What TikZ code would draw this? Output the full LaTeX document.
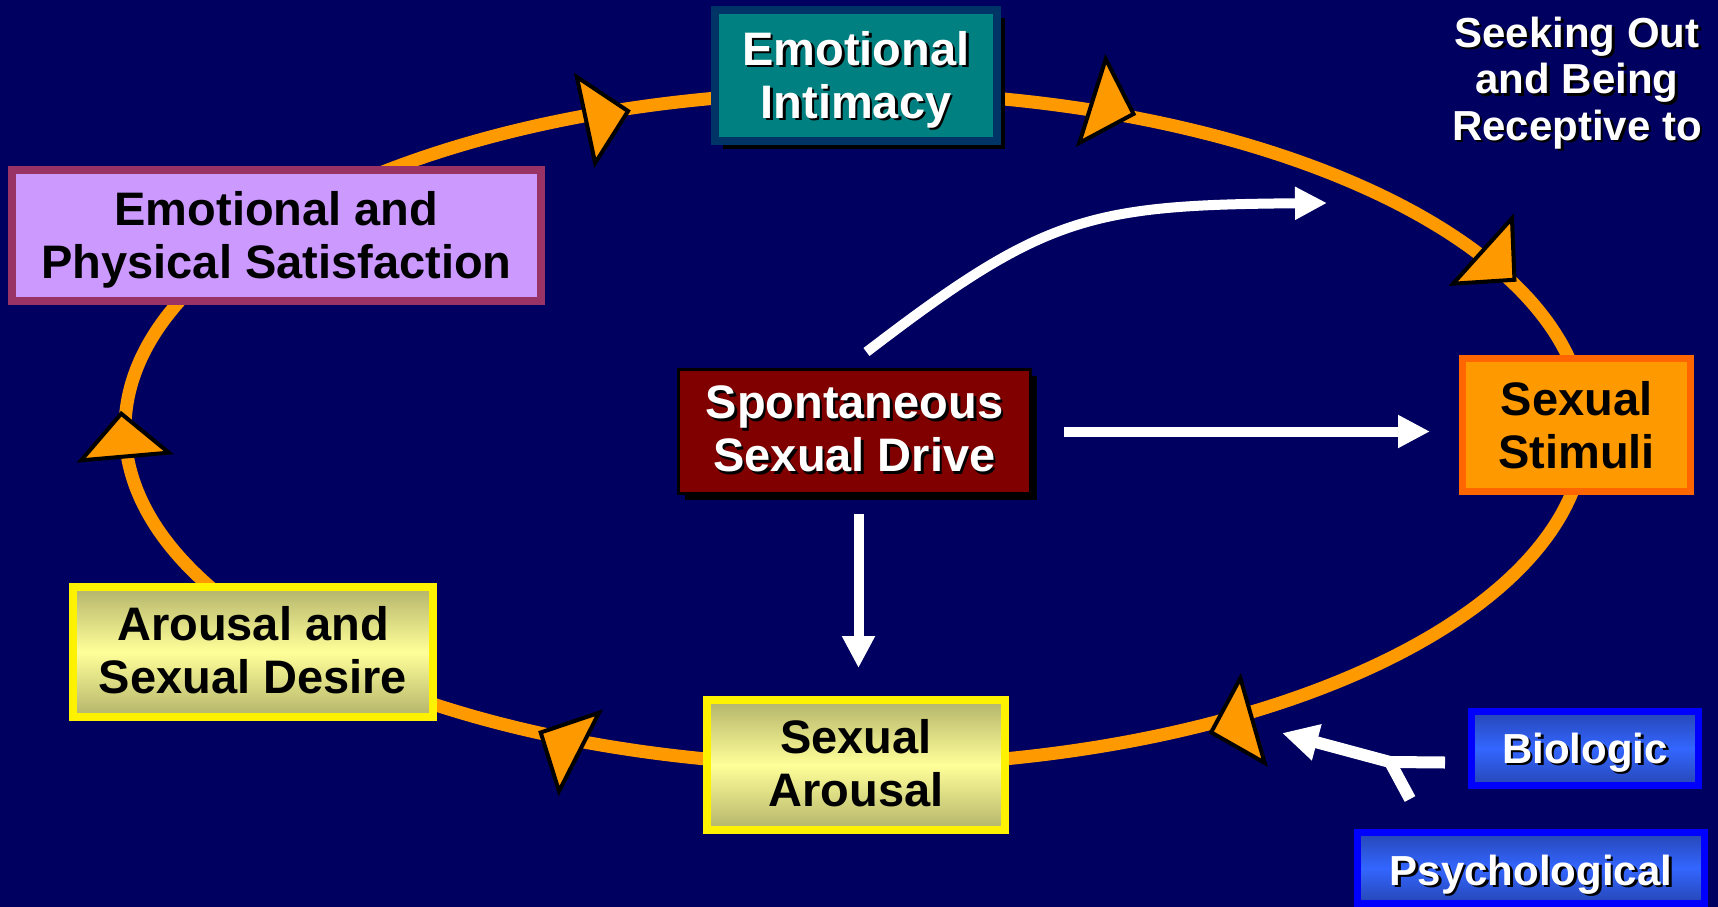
\documentclass[tikz,border=0pt]{standalone}
\usepackage{fontspec}
\setmainfont{Liberation Sans}
\usepackage{xcolor}
\usetikzlibrary{arrows.meta,shadows}

\definecolor{BgNavy}{HTML}{000060}
\definecolor{CycOrange}{HTML}{FF9900}
\definecolor{TealFill}{HTML}{008080}
\definecolor{TealLine}{HTML}{003366}
\definecolor{LilacFill}{HTML}{CC99FF}
\definecolor{LilacLine}{HTML}{993366}
\definecolor{DriveRed}{HTML}{800000}
\definecolor{StimLine}{HTML}{FF6600}
\definecolor{OliveEdge}{HTML}{B3B36B}
\definecolor{PaleYellow}{HTML}{FFFF99}
\definecolor{BlueEdge}{HTML}{2646B5}
\definecolor{BlueMid}{HTML}{3366FF}

\begin{document}
\begin{tikzpicture}[
        % Environment Config
        x=1pt, y=-1pt,
        BoxText/.style={% Style for the text of the boxes
          inner sep=0pt,
          align=center,
          font=\bfseries\fontsize{47}{53}\selectfont
        },
        SmallText/.style={% Style for the smaller texts
          inner sep=0pt,
          align=center,
          font=\bfseries\fontsize{42}{46.5}\selectfont
        },
        CycleLine/.style={% Style for the orange cycle
          draw=CycOrange,
          line width=13pt
        },
        TipShape/.style={% Style for the arrowheads on the cycle
          fill=CycOrange,
          draw=black,
          line width=4pt,
          line join=miter
        },
        WhiteArrow/.style={% Style for the white arrows
          -{Triangle[length=32pt,width=31pt]},
          white,
          line width=10pt
        },
        ForkArrow/.style={% Style for the forked arrow
          -{Triangle[length=36pt,width=35pt]},
          white,
          line width=12pt
        },
        YellowBox/.style={% Style for the yellow boxes
          BoxText,
          draw=yellow,
          line width=8pt,
          top color=OliveEdge,
          bottom color=OliveEdge,
          middle color=PaleYellow,
          minimum height=130pt,
          text depth=0pt
        },
        BlueBox/.style={% Style for the blue boxes
          SmallText,
          text=white,
          draw=blue,
          line width=7pt,
          top color=BlueEdge,
          bottom color=BlueEdge,
          middle color=BlueMid,
          text depth=8.8pt
        }
      ]

      \def\ShadowTxt#1{% White text with a black shadow
        \makebox[0pt][l]{\hspace{2.5pt}\raisebox{-2.5pt}{\textcolor{black}{#1}}}#1}
      \def\CycleTip(#1)#2{% Arrowhead on the cycle
        \begin{scope}[shift={(#1)},rotate=#2]
          \draw[TipShape] (43,0) -- (0,-44) -- (0,44) -- cycle;
        \end{scope}
      }

      % Background
      \useasboundingbox (0,0) rectangle (1718,907);
      \fill[BgNavy] (0,0) rectangle (1718,907);

      % The cycle and its arrowheads
      \draw[CycleLine] (855,429) ellipse [x radius=730pt, y radius=337pt];
      \CycleTip(586,120){12}
      \CycleTip(1092.5,101){-17.5}
      \CycleTip(1482.5,251){-42}
      \CycleTip(1252.5,720.5){-164}
      \CycleTip(579,752){153}
      \CycleTip(125,456.5){95}

      % Put the boxes
      \draw(856,75.5) node[BoxText, text=white, fill=TealFill, draw=TealLine,
          line width=8pt, minimum width=282pt, minimum height=131pt,
          text height=95.5pt, text depth=9.9pt,
          drop shadow={shadow xshift=8pt, shadow yshift=-8pt, fill=black, opacity=1}]
          (N-Intimacy){\ShadowTxt{Emotional}\\\ShadowTxt{Intimacy}};
      \draw(276.5,235.5) node[BoxText, fill=LilacFill, draw=LilacLine,
          line width=8pt, minimum width=529pt, minimum height=131pt,
          text height=94.9pt, text depth=9.9pt]
          (N-Satisf){Emotional and\\Physical Satisfaction};
      \draw(854.5,431.5) node[BoxText, text=white, fill=DriveRed, draw=black,
          line width=3pt, minimum width=352pt, minimum height=124pt,
          text height=80.4pt, text depth=0pt,
          drop shadow={shadow xshift=6.5pt, shadow yshift=-6.5pt, fill=black, opacity=1}]
          (N-Drive){\ShadowTxt{Spontaneous}\\\ShadowTxt{Sexual Drive}};
      \draw(1576.5,425) node[BoxText, fill=CycOrange, draw=StimLine,
          line width=7pt, minimum width=228pt, minimum height=133pt]
          (N-Stimuli){Sexual\\Stimuli};
      \draw(253,652) node[YellowBox, minimum width=360pt, text height=82.6pt]
          (N-Desire){Arousal and\\Sexual Desire};
      \draw(856,765) node[YellowBox, minimum width=298pt, text height=83.4pt]
          (N-Arousal){Sexual\\Arousal};
      \draw(1585,748.5) node[BlueBox, minimum width=227pt, minimum height=74pt,
          text height=38.4pt]
          (N-Bio){\ShadowTxt{Biologic}};
      \draw(1531,868) node[BlueBox, minimum width=347pt, minimum height=71pt,
          text height=42.8pt]
          (N-Psych){\ShadowTxt{Psychological}};
      \draw(1577,84) node[SmallText, text=white]
          (N-Seek){\ShadowTxt{Seeking Out}\\\ShadowTxt{and Being}\\\ShadowTxt{Receptive to}};

      % Some free ends
      \coordinate (N-Seek-In) at (1327,203);
      \coordinate (N-Fork) at (1390,762);
      \coordinate (N-Cycle-In) at (1282,733);

      % Draw the white arrows
      \draw[WhiteArrow]
      ([xshift=12pt,yshift=16pt]N-Drive.north)
          .. controls (1045,215) and (1090,205) .. (N-Seek-In);
      \draw[WhiteArrow, shorten <=32pt, shorten >=29pt]
      (N-Drive.east)
          -- (N-Drive.east -| N-Stimuli.west);
      \draw[WhiteArrow, shorten <=19pt, shorten >=28pt]
      ([xshift=4pt]N-Drive.south)
          -- ([xshift=4pt]N-Drive.south |- N-Arousal.north);
      \draw[ForkArrow]
      ([xshift=-23pt,yshift=-14pt]N-Bio.west)
          -- (N-Fork)
          -- (N-Cycle-In);
      \draw[white, line width=12pt]
      ([xshift=-121pt,yshift=30pt]N-Psych.north)
          -- (N-Fork);

      \end{tikzpicture}
\end{document}
